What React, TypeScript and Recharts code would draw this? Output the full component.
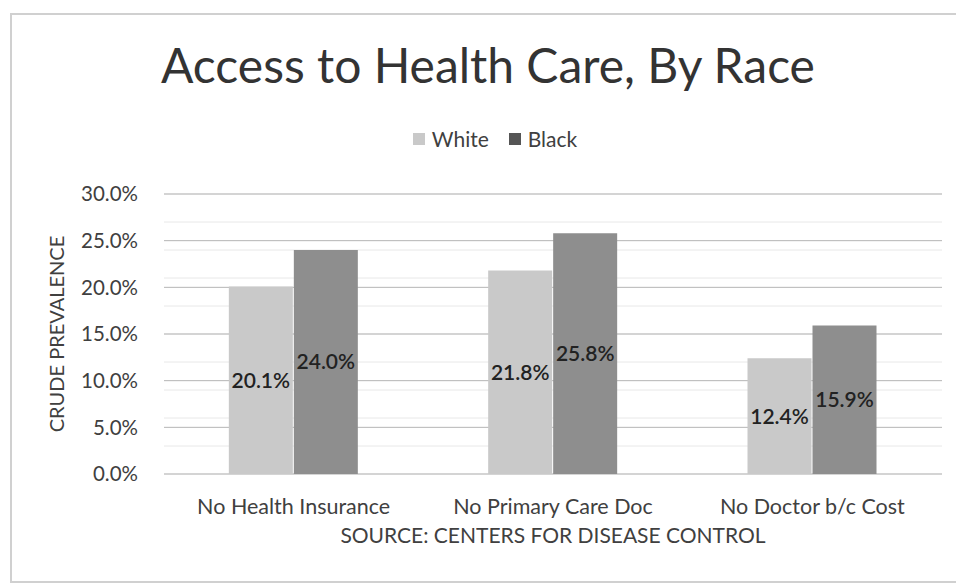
import { BarChart, Bar, XAxis, YAxis, CartesianGrid, Legend, LabelList } from "recharts";

const FONT = "Lato, 'Open Sans', sans-serif";

const CATEGORIES = ["No Health Insurance", "No Primary Care Doc", "No Doctor b/c Cost"];
const WHITE_VALUES = [20.1, 21.8, 12.4];
const BLACK_VALUES = [24.0, 25.8, 15.9];
const Y_TICKS = [0, 5, 10, 15, 20, 25, 30];
const MINOR_TICKS = [
    0, 1, 2, 3, 4, 5, 6, 7, 8, 9, 10, 11, 12, 13, 14, 15,
    16, 17, 18, 19, 20, 21, 22, 23, 24, 25, 26, 27, 28, 29, 30,
];

const WHITE_FILL = "#c9c9c9";
const BLACK_FILL = "#8e8e8e";
const TEXT = "#404040";

const data = CATEGORIES.map((name, i) => ({
    name,
    white: WHITE_VALUES[i],
    black: BLACK_VALUES[i],
}));

const pct = (v: number) => `${Number(v).toFixed(1)}%`;

function LegendContent() {
    const items = [
        { label: "White", color: WHITE_FILL },
        { label: "Black", color: "#555555" },
    ];
    return (
        <div
            style={{
                display: "flex",
                justifyContent: "center",
                gap: 20,
                paddingLeft: 34,
                fontSize: 21,
                color: TEXT,
                fontFamily: FONT,
            }}
        >
            {items.map((it) => (
                <span key={it.label} style={{ display: "flex", alignItems: "center", gap: 7 }}>
                    <span style={{ width: 12, height: 12, background: it.color, display: "inline-block" }} />
                    {it.label}
                </span>
            ))}
        </div>
    );
}

export default function App() {
    return (
        <div
            style={{
                position: "absolute",
                left: 0,
                top: 0,
                width: 956,
                height: 584,
                background: "#ffffff",
                overflow: "hidden",
                fontFamily: FONT,
            }}
        >
            <BarChart
                width={956}
                height={584}
                data={data}
                margin={{ top: 194, right: 14, bottom: 20, left: 40 }}
                barCategoryGap="25%"
                barGap={1}
                style={{ fontFamily: FONT }}
            >
                {/* minor lines every 1%, major every 5% */}
                <CartesianGrid vertical={false} horizontalValues={MINOR_TICKS} stroke="#e8e8e8" />
                <CartesianGrid vertical={false} stroke="#b5b5b5" />
                <XAxis
                    dataKey="name"
                    interval={0}
                    axisLine={false}
                    tickLine={false}
                    tickSize={0}
                    tickMargin={25}
                    height={90}
                    tick={{ fill: TEXT, fontSize: 21.5 }}
                    label={{
                        value: "SOURCE: CENTERS FOR DISEASE CONTROL",
                        position: "insideBottom",
                        offset: 21,
                        fill: TEXT,
                        fontSize: 21,
                    }}
                />
                <YAxis
                    domain={[0, 30]}
                    ticks={Y_TICKS}
                    tickFormatter={pct}
                    axisLine={false}
                    tickLine={false}
                    tickSize={0}
                    tickMargin={26}
                    width={124}
                    tick={{ fill: TEXT, fontSize: 20.5 }}
                    label={{
                        value: "CRUDE PREVALENCE",
                        angle: -90,
                        position: "insideLeft",
                        offset: 17,
                        fill: TEXT,
                        fontSize: 20,
                        style: { textAnchor: "middle" },
                    }}
                />
                <Bar dataKey="white" name="White" fill={WHITE_FILL} isAnimationActive={false}>
                    <LabelList
                        dataKey="white"
                        position="center"
                        formatter={pct}
                        fill="#222222"
                        fontSize={21}
                        fontWeight={600}
                    />
                </Bar>
                <Bar dataKey="black" name="Black" fill={BLACK_FILL} isAnimationActive={false}>
                    <LabelList
                        dataKey="black"
                        position="center"
                        formatter={pct}
                        fill="#222222"
                        fontSize={21}
                        fontWeight={600}
                    />
                </Bar>
                <Legend
                    verticalAlign="middle"
                    content={<LegendContent />}
                    wrapperStyle={{ top: 126, left: 0, width: 956 }}
                />
            </BarChart>

            {/* chart frame, open on the right */}
            <div
                style={{
                    position: "absolute",
                    left: 10,
                    top: 13,
                    width: 1000,
                    height: 566,
                    border: "2px solid #d0d0d0",
                }}
            />

            <div
                style={{
                    position: "absolute",
                    left: 0,
                    top: 41,
                    width: 976,
                    textAlign: "center",
                    fontSize: 48,
                    lineHeight: "48px",
                    color: "#333333",
                }}
            >
                Access to Health Care, By Race
            </div>
        </div>
    );
}
